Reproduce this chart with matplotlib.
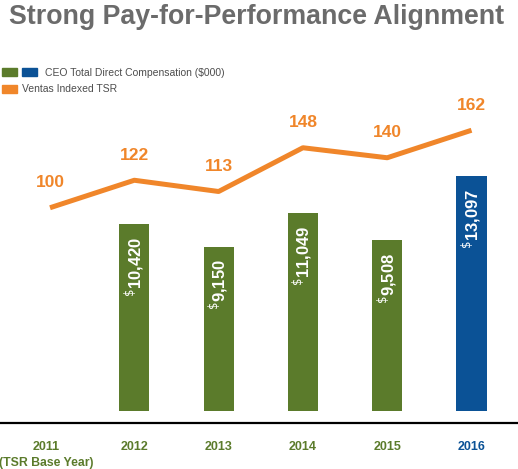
import matplotlib
matplotlib.use("Agg")
import matplotlib.pyplot as plt
from matplotlib.patches import Rectangle

# data
years = ["2011", "2012", "2013", "2014", "2015", "2016"]
comp = [None, 10420, 9150, 11049, 9508, 13097]   # CEO total direct comp ($000)
tsr = [100, 122, 113, 148, 140, 162]              # Ventas indexed TSR

GREEN = "#5b7b2b"
BLUE = "#0b5296"
ORANGE = "#f0862a"
GRAY = "#6b6b6b"
FONT = "Liberation Sans"

W, H = 518, 469
fig = plt.figure(figsize=(W / 100, H / 100), dpi=100)
ax = fig.add_axes([0, 0, 1, 1])
ax.set_axis_off()

# x: 2011 at px 50, step 84.3 px
step = 84.3
ax.set_xlim(-50 / step, (W - 50) / step)
# bars: baseline at 58 px from bottom, 0.01793 px per $000
base, scale = 58.2, 0.01793
ax.set_ylim(-base / scale, (H - base) / scale)

xs = list(range(len(years)))
for i, v in enumerate(comp):
    if v is None:
        continue
    col = BLUE if years[i] == "2016" else GREEN
    ax.bar(i, v, width=0.356, color=col, zorder=2)
    ax.annotate(r"$^{\$}$" + f"{v:,}", (i, v), xytext=(0, -9),
                textcoords="offset points", rotation=90, ha="center", va="top",
                color="white", fontsize=12, fontweight="bold", family=FONT, zorder=3)

# TSR line on its own scale
ax2 = ax.twinx()
ax2.set_axis_off()
ax2.set_position([0, 0, 1, 1])
ax2.set_ylim(-109, 266.2)
ax2.plot(xs, tsr, color=ORANGE, lw=3.6, solid_capstyle="butt", zorder=4)
for i, v in enumerate(tsr):
    ax2.annotate(str(v), (i, v), xytext=(0, 18), textcoords="offset points",
                 ha="center", va="center", color=ORANGE, fontsize=12.5,
                 fontweight="bold", family=FONT)

# baseline rule
ax.plot([0, 1], [(H - 423) / H] * 2, color="black", lw=1.6, transform=ax.transAxes,
        clip_on=False)

# year labels
tr = ax.get_xaxis_transform()
for i, y in enumerate(years):
    col = BLUE if y == "2016" else GREEN
    ax.text(i - 0.04 if i == 0 else i, (H - 447) / H, y, transform=tr, ha="center",
            va="center", color=col, fontsize=9, fontweight="bold", family=FONT)
ax.text(-0.05, (H - 463) / H, "(TSR Base Year)", transform=tr, ha="center", va="center",
        color=GREEN, fontsize=8.8, fontweight="bold", family=FONT)

# title
fig.text(257, H - 17, "Strong Pay-for-Performance Alignment", ha="center", va="center",
         color=GRAY, fontsize=19.3, fontweight="bold", family=FONT,
         transform=None)

# legend
def fpx(x, y):
    return x / W, 1 - y / H

for x0, col in [(2, GREEN), (22, BLUE)]:
    fig.add_artist(Rectangle(fpx(x0, 76), 15 / W, 8 / H, color=col,
                             transform=fig.transFigure))
fig.add_artist(Rectangle(fpx(2, 93), 15 / W, 8 / H, color=ORANGE,
                         transform=fig.transFigure))
fig.text(*fpx(45, 72.5), "CEO Total Direct Compensation ($000)", ha="left", va="center",
         color="#4d4d4d", fontsize=7.5, family=FONT)
fig.text(*fpx(22, 89.5), "Ventas Indexed TSR", ha="left", va="center",
         color="#4d4d4d", fontsize=7.5, family=FONT)

fig.savefig("out.png", dpi=100)
